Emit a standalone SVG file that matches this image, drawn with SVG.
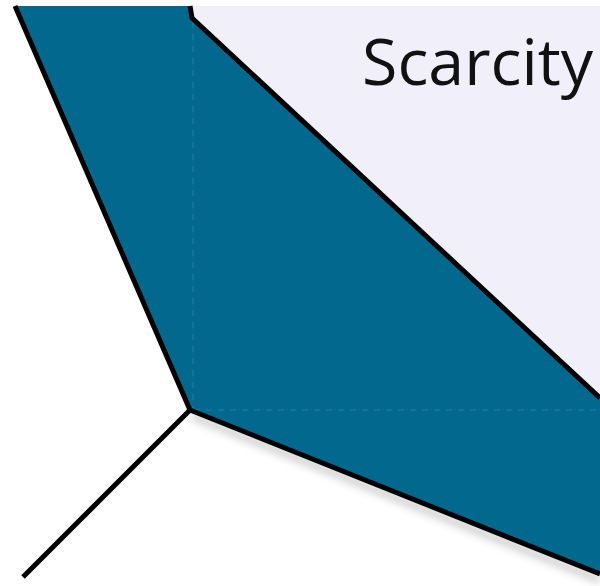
<svg xmlns="http://www.w3.org/2000/svg" width="600" height="586" viewBox="0 0 600 586">
<defs>
<style>
.edge{fill:none;stroke:#000;stroke-width:5;stroke-linejoin:round;stroke-linecap:butt}
.axis{fill:none;stroke:#2a82a6;stroke-width:1.5;stroke-dasharray:6 6;opacity:0.6}
</style>
<filter id="sh" x="-10%" y="-50%" width="120%" height="200%"><feGaussianBlur stdDeviation="4"/></filter>
</defs>
<rect width="600" height="586" fill="#fff"/>
<g id="scarcity-region">
<polygon points="190,6 600,6 600,398 192,18" fill="#f1effa"/>
<text x="362" y="85" font-family="Open Sans, Liberation Sans, sans-serif" font-size="64" fill="#111" textLength="231" lengthAdjust="spacingAndGlyphs">Scarcity</text>
</g>
<g id="shadow">
<path d="M192,416 L600,580" stroke="#999" stroke-width="6" fill="none" filter="url(#sh)" opacity="0.6"/>
</g>
<g id="region">
<polygon points="15,6 190,6 192,18 600,398 600,574 190,410" fill="#02688e"/>
</g>
<g id="axes">
<path class="axis" d="M193,22 L193,408"/>
<path class="axis" d="M194,410 L598,410"/>
</g>
<g id="edges">
<path class="edge" d="M15,6 L190,410 L600,574"/>
<path class="edge" d="M190,6 L192,18 L600,398"/>
<path class="edge" stroke-linecap="round" d="M190,410 L23,577"/>
</g>
</svg>
